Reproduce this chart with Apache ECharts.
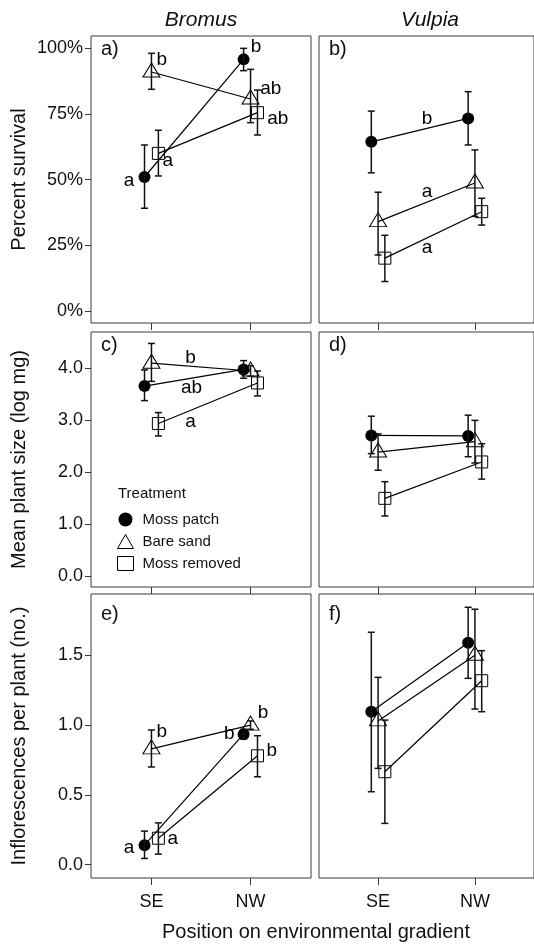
<!DOCTYPE html>
<html><head><meta charset="utf-8">
<script src="https://cdn.jsdelivr.net/npm/echarts@6/dist/echarts.min.js"></script>
<style>html,body{margin:0;padding:0;background:#fff}#c{width:534px;height:945px}</style>
</head><body><div id="c"></div>
<script>
const sites = ['SE', 'NW'];
const treatments = ['Moss patch', 'Bare sand', 'Moss removed'];
const speciesNames = ['Bromus', 'Vulpia'];

// Percent survival (rows: Moss patch, Bare sand, Moss removed; cols: SE, NW)
const survivalBromusMean = [[51.0, 95.8], [91.0, 80.7], [60.0, 75.5]];
const survivalBromusLow  = [[39.1, 91.5], [84.4, 71.7], [51.4, 67.0]];
const survivalBromusHigh = [[63.2, 100.0], [98.1, 92.0], [68.8, 84.1]];
const survivalVulpiaMean = [[64.4, 73.3], [34.0, 48.7], [20.1, 37.8]];
const survivalVulpiaLow  = [[52.6, 63.2], [21.3, 36.0], [11.2, 32.7]];
const survivalVulpiaHigh = [[76.1, 83.5], [45.2, 61.3], [28.8, 42.9]];

// Mean plant size (log mg)
const sizeBromusMean = [[3.66, 3.98], [4.10, 3.95], [2.94, 3.72]];
const sizeBromusLow  = [[3.38, 3.81], [3.75, 3.85], [2.70, 3.47]];
const sizeBromusHigh = [[3.97, 4.15], [4.48, 4.05], [3.15, 3.95]];
const sizeVulpiaMean = [[2.71, 2.70], [2.39, 2.59], [1.50, 2.20]];
const sizeVulpiaLow  = [[2.36, 2.30], [2.04, 2.18], [1.16, 1.87]];
const sizeVulpiaHigh = [[3.08, 3.10], [2.74, 3.00], [1.82, 2.55]];

// Inflorescences per plant (no.)
const inflBromusMean = [[0.14, 0.935], [0.83, 1.00], [0.19, 0.78]];
const inflBromusLow  = [[0.045, 0.90], [0.70, 0.97], [0.076, 0.63]];
const inflBromusHigh = [[0.241, 0.97], [0.965, 1.03], [0.30, 0.924]];
const inflVulpiaMean = [[1.096, 1.59], [1.03, 1.50], [0.666, 1.318]];
const inflVulpiaLow  = [[0.523, 1.335], [0.69, 1.115], [0.296, 1.096]];
const inflVulpiaHigh = [[1.665, 1.844], [1.342, 1.83], [1.036, 1.533]];

// Significance letters [text, x, y] in data units
const survivalBromusLetters = [['a', 0.78, 49.5], ['a', 1.17, 57.1], ['b', 1.11, 95.5], ['b', 2.06, 100.4], ['ab', 2.21, 84.5], ['ab', 2.28, 73.1]];
const survivalVulpiaLetters = [['b', 1.51, 73.1], ['a', 1.51, 45.0], ['a', 1.51, 23.7]];
const sizeBromusLetters = [['b', 1.40, 4.19], ['ab', 1.41, 3.61], ['a', 1.40, 2.97]];
const sizeVulpiaLetters = [];
const inflBromusLetters = [['a', 0.78, 0.115], ['a', 1.22, 0.179], ['b', 1.11, 0.946], ['b', 1.79, 0.936], ['b', 2.13, 1.087], ['b', 2.22, 0.812]];
const inflVulpiaLetters = [];

const panelTags = ['a)', 'b)', 'c)', 'd)', 'e)', 'f)'];
const yTitles = ['Percent survival', 'Mean plant size (log mg)', 'Inflorescences per plant (no.)'];
const survivalTicks = [0, 25, 50, 75, 100];
const sizeTicks = [0, 1, 2, 3, 4];
const inflTicks = [0, 0.5, 1.0, 1.5];
const xTitle = 'Position on environmental gradient';

const FONT = "'Liberation Sans', Arial, Helvetica, sans-serif";
const INK = '#111';
const BORDER = '#3a3a3a';

const panels = [
  { mean: survivalBromusMean, low: survivalBromusLow, high: survivalBromusHigh, letters: survivalBromusLetters, ticks: survivalTicks, fmt: v => v + '%', range: [-4.6, 104.7] },
  { mean: survivalVulpiaMean, low: survivalVulpiaLow, high: survivalVulpiaHigh, letters: survivalVulpiaLetters, ticks: survivalTicks, fmt: v => v + '%', range: [-4.6, 104.7] },
  { mean: sizeBromusMean, low: sizeBromusLow, high: sizeBromusHigh, letters: sizeBromusLetters, ticks: sizeTicks, fmt: v => v.toFixed(1), range: [-0.206, 4.70] },
  { mean: sizeVulpiaMean, low: sizeVulpiaLow, high: sizeVulpiaHigh, letters: sizeVulpiaLetters, ticks: sizeTicks, fmt: v => v.toFixed(1), range: [-0.206, 4.70] },
  { mean: inflBromusMean, low: inflBromusLow, high: inflBromusHigh, letters: inflBromusLetters, ticks: inflTicks, fmt: v => v.toFixed(1), range: [-0.095, 1.939] },
  { mean: inflVulpiaMean, low: inflVulpiaLow, high: inflVulpiaHigh, letters: inflVulpiaLetters, ticks: inflTicks, fmt: v => v.toFixed(1), range: [-0.095, 1.939] }
];

const colLeft = [91, 319];
const colWidth = [220, 222];
const rowTop = [36, 332, 594];
const rowHeight = [287, 255, 284];
const dodge = [-0.07, 0, 0.07];
const symbols = [
  { symbol: 'circle', symbolSize: 12, symbolOffset: [0, 0], itemStyle: { color: '#000', borderWidth: 0 } },
  { symbol: 'triangle', symbolSize: [17, 14], symbolOffset: [0, -2], itemStyle: { color: 'rgba(0,0,0,0)', borderColor: '#000', borderWidth: 1 } },
  { symbol: 'rect', symbolSize: 12, symbolOffset: [0, 0], itemStyle: { color: 'rgba(0,0,0,0)', borderColor: '#000', borderWidth: 1 } }
];

function renderErr(params, api) {
  const x = api.value(0), lo = api.value(1), hi = api.value(2);
  const p1 = api.coord([x, lo]), p2 = api.coord([x, hi]);
  const w = 3.5;
  const style = { stroke: '#111', lineWidth: 1.5 };
  return {
    type: 'group', children: [
      { type: 'line', shape: { x1: p1[0], y1: p1[1], x2: p2[0], y2: p2[1] }, style },
      { type: 'line', shape: { x1: p1[0] - w, y1: p1[1], x2: p1[0] + w, y2: p1[1] }, style },
      { type: 'line', shape: { x1: p2[0] - w, y1: p2[1], x2: p2[0] + w, y2: p2[1] }, style }
    ]
  };
}

const grid = [], xAxis = [], yAxis = [], series = [], graphic = [];
panels.forEach((p, i) => {
  const row = Math.floor(i / 2), col = i % 2;
  grid.push({ left: colLeft[col], top: rowTop[row], width: colWidth[col], height: rowHeight[row], show: true, borderColor: BORDER, borderWidth: 1, backgroundColor: 'transparent', containLabel: false });
  xAxis.push({
    type: 'value', gridIndex: i, min: 0.39, max: 2.61, position: 'bottom',
    axisLine: { show: false, onZero: false }, splitLine: { show: false },
    axisTick: { show: true, inside: false, length: 7, customValues: [1, 2], lineStyle: { color: BORDER, width: 1 } },
    axisLabel: { show: row === 2, customValues: [1, 2], formatter: v => sites[Math.round(v) - 1], fontSize: 18, color: INK, fontFamily: FONT, margin: 15 }
  });
  yAxis.push({
    type: 'value', gridIndex: i, min: p.range[0], max: p.range[1], position: 'left',
    axisLine: { show: false, onZero: false }, splitLine: { show: false },
    axisTick: { show: col === 0, inside: false, length: 6, customValues: p.ticks, lineStyle: { color: BORDER, width: 1 } },
    axisLabel: { show: col === 0, customValues: p.ticks, formatter: p.fmt, fontSize: 18, color: INK, fontFamily: FONT, margin: 8 },
    name: col === 0 ? yTitles[row] : '', nameLocation: 'middle', nameGap: 62,
    nameTextStyle: { fontSize: 20, color: INK, fontFamily: FONT }
  });
  treatments.forEach((t, k) => {
    series.push(Object.assign({
      type: 'line', name: t, xAxisIndex: i, yAxisIndex: i, z: 3,
      data: sites.map((s, j) => [j + 1 + dodge[k], p.mean[k][j]]),
      lineStyle: { color: '#000', width: 1.2 }, showSymbol: true, animation: false, silent: true
    }, symbols[k]));
    series.push({
      type: 'custom', name: t + ' err', xAxisIndex: i, yAxisIndex: i, z: 4, silent: true, animation: false,
      renderItem: renderErr, encode: { x: 0, y: [1, 2] },
      data: sites.map((s, j) => [j + 1 + dodge[k], p.low[k][j], p.high[k][j]])
    });
  });
  if (p.letters.length) {
    series.push({
      type: 'scatter', xAxisIndex: i, yAxisIndex: i, symbolSize: 1, z: 5, silent: true, animation: false,
      itemStyle: { color: 'rgba(0,0,0,0)', opacity: 1 },
      data: p.letters.map(l => [l[1], l[2], l[0]]),
      label: { show: true, position: [0, 0], align: 'center', verticalAlign: 'middle', formatter: d => d.value[2], fontSize: 19, color: '#000', textBorderWidth: 0, fontFamily: FONT }
    });
  }
  graphic.push({ type: 'text', left: colLeft[col] + 10, top: rowTop[row] + (row === 2 ? 10 : 3), style: { text: panelTags[i], fontSize: 20, fill: INK, fontFamily: FONT } });
});

graphic.push({ type: 'text', x: 201, y: 20, style: { text: speciesNames[0], fontSize: 21, fontStyle: 'italic', fill: INK, fontFamily: FONT, textAlign: 'center', textVerticalAlign: 'middle' } });
graphic.push({ type: 'text', x: 430, y: 20, style: { text: speciesNames[1], fontSize: 21, fontStyle: 'italic', fill: INK, fontFamily: FONT, textAlign: 'center', textVerticalAlign: 'middle' } });
graphic.push({ type: 'text', x: 316, y: 932, style: { text: xTitle, fontSize: 20, fill: INK, fontFamily: FONT, textAlign: 'center', textVerticalAlign: 'middle' } });
graphic.push({ type: 'text', x: 118, y: 494, style: { text: 'Treatment', fontSize: 15, fill: INK, fontFamily: FONT, textAlign: 'left', textVerticalAlign: 'middle' } });

const option = {
  backgroundColor: '#fff',
  animation: false,
  grid, xAxis, yAxis, series, graphic,
  legend: {
    left: 117, top: 512, orient: 'vertical', itemGap: 7, itemWidth: 16, itemHeight: 14, padding: 0,
    selectedMode: false,
    textStyle: { fontSize: 15, color: INK, fontFamily: FONT, padding: [0, 0, 0, 4] },
    data: [
      { name: treatments[0], icon: 'circle', itemStyle: { color: '#000', borderWidth: 0 } },
      { name: treatments[1], icon: 'triangle', itemStyle: { color: 'rgba(0,0,0,0)', borderColor: '#000', borderWidth: 1 } },
      { name: treatments[2], icon: 'rect', itemStyle: { color: 'rgba(0,0,0,0)', borderColor: '#000', borderWidth: 1 } }
    ]
  }
};
const chart = echarts.init(document.getElementById('c'), null, { renderer: 'canvas' });
chart.setOption(option);
</script>
</body></html>
